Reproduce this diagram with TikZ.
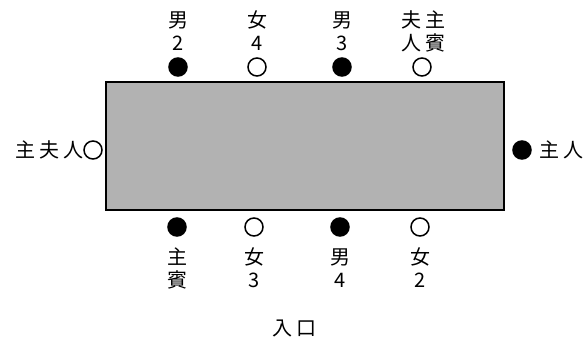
\documentclass[tikz,border=0pt]{standalone}
\usepackage{fontspec}
\setmainfont{Noto Sans CJK JP}
\newcommand{\cgap}{\hspace{4pt}}
\tikzset{
  seat/.style={circle, draw, line width=1.5pt, minimum size=18pt, inner sep=0pt},
  man/.style={seat, fill=black},
  woman/.style={seat, fill=white},
  seattext/.style={align=center, inner sep=0pt, font=\fontsize{20}{23}\selectfont}
}
\begin{document}
\begin{tikzpicture}[x=1pt, y=-1pt]
        \useasboundingbox (0,0) rectangle (587,343);
        \node[draw, line width=1.5pt, fill=black!30, minimum width=398pt, minimum height=128pt, inner sep=0pt] (table) at (305,146) {};
        % top side
        \node[man]   (m2) at (178,67) {};
        \node[woman] (w4) at (257,67) {};
        \node[man]   (m3) at (342,67) {};
        \node[woman] (gw) at (422,67) {};
        \node[seattext] (m2t) at (178,31) {男\\2};
        \node[seattext] (w4t) at (257,31) {女\\4};
        \node[seattext] (m3t) at (342,31) {男\\3};
        \node[seattext] (gwt) at (423,31) {夫\cgap 主\\人\cgap 賓};
        % bottom side
        \node[man]   (g)  at (177,227) {};
        \node[woman] (w3) at (254,227) {};
        \node[man]   (m4) at (340,227) {};
        \node[woman] (w2) at (420,227) {};
        \node[seattext] (gt)  at (177,268) {主\\賓};
        \node[seattext] (w3t) at (254,268) {女\\3};
        \node[seattext] (m4t) at (340,268) {男\\4};
        \node[seattext] (w2t) at (420,268) {女\\2};
        % ends
        \node[woman] (hw) at (93,150) {};
        \node[seattext, anchor=east] (hwt) at (84,150) {主\cgap 夫\cgap 人};
        \node[man]   (h)  at (522,150) {};
        \node[seattext, anchor=west] (ht) at (539,150) {主\cgap 人};
        % entrance
        \node[seattext] (door) at (294,328) {入\cgap 口};
\end{tikzpicture}
\end{document}
